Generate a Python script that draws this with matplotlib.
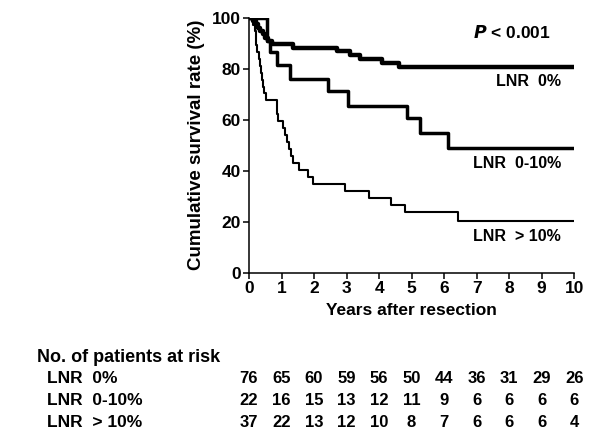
import matplotlib
matplotlib.use('Agg')
import matplotlib.pyplot as plt
import matplotlib.transforms as mtransforms

plt.rcParams['font.family'] = ['Liberation Sans', 'DejaVu Sans']
plt.rcParams['font.weight'] = 'bold'

# LNR 0% (thick)
t_0 = [0, 0.12, 0.2, 0.28, 0.35, 0.42, 0.5, 0.58, 0.7, 1.35, 2.7, 3.1, 3.4, 4.1, 4.6, 10]
s_0 = [100, 98.7, 97.4, 96.1, 94.7, 93.4, 92.1, 90.8, 89.5, 88.2, 86.8, 85.4, 83.9, 82.4, 80.6, 80.6]

# LNR 0-10% (medium)
t_1 = [0, 0.54, 0.56, 0.66, 0.86, 1.26, 2.43, 3.05, 4.85, 5.26, 6.12, 10]
s_1 = [100, 95.5, 90.9, 86.4, 81.6, 76.0, 71.3, 65.5, 60.7, 54.8, 48.9, 48.9]

# LNR >10% (thin)
t_2 = [0, 0.13, 0.17, 0.2, 0.23, 0.26, 0.3, 0.33, 0.37, 0.4, 0.44, 0.47, 0.51,
       0.85, 0.87, 0.89, 1.05, 1.12, 1.18, 1.24, 1.3, 1.36, 1.55, 1.8, 1.98,
       2.95, 3.7, 4.37, 4.8, 6.44, 10]
s_2 = [100, 97.3, 94.6, 91.9, 89.2, 86.5, 83.8, 81.1, 78.4, 75.7, 73.0, 70.3, 67.6,
       64.9, 62.2, 59.5, 56.8, 54.1, 51.4, 48.6, 45.9, 43.2, 40.3, 37.6, 35.0,
       32.3, 29.5, 26.6, 23.7, 20.3, 20.3]

groups = ['LNR  0%', 'LNR  0-10%', 'LNR  > 10%']
at_risk_0 = [76, 65, 60, 59, 56, 50, 44, 36, 31, 29, 26]
at_risk_1 = [22, 16, 15, 13, 12, 11, 9, 6, 6, 6, 6]
at_risk_2 = [37, 22, 13, 12, 10, 8, 7, 6, 6, 6, 4]
years = list(range(11))

fig = plt.figure(figsize=(6, 4.41), dpi=100)
ax = fig.add_axes([0.415, 0.381, 0.542, 0.579])

ax.step(t_0, s_0, where='post', color='black', lw=3.2)
ax.step(t_1, s_1, where='post', color='black', lw=2.5)
ax.step(t_2, s_2, where='post', color='black', lw=1.5)

ax.set_xlim(0, 10)
ax.set_ylim(0, 100)
ax.set_xticks(years)
ax.set_yticks([0, 20, 40, 60, 80, 100])
ax.spines['top'].set_visible(False)
ax.spines['right'].set_visible(False)
for sp in ['left', 'bottom']:
    ax.spines[sp].set_linewidth(1.1)
ax.tick_params(direction='out', length=4, width=1.1, labelsize=12.5, pad=2)
for lab in ax.get_xticklabels() + ax.get_yticklabels():
    lab.set_fontweight('bold')

ax.set_xlabel('Years after resection', fontsize=12.5, fontweight='bold', labelpad=5)
ax.set_ylabel('Cumulative survival rate (%)', fontsize=13.5, fontweight='bold', labelpad=5)

ax.text(9.26, 94, r'$\bfit{P}$ < 0.001', ha='right', va='center', fontsize=12.5, fontweight='bold')
ax.text(9.6, 74.8, groups[0], ha='right', va='center', fontsize=11.5, fontweight='bold')
ax.text(9.6, 43, groups[1], ha='right', va='center', fontsize=11.5, fontweight='bold')
ax.text(9.6, 14.1, groups[2], ha='right', va='center', fontsize=11.5, fontweight='bold')

# risk table
tr = mtransforms.blended_transform_factory(ax.transData, fig.transFigure)
fig.text(0.062, 0.19, 'No. of patients at risk', ha='left', va='center', fontsize=13, fontweight='bold')
rows_y = [0.142, 0.092, 0.042]
for g, row, y in zip(groups, [at_risk_0, at_risk_1, at_risk_2], rows_y):
    fig.text(0.078, y, g, ha='left', va='center', fontsize=12.5, fontweight='bold')
    for yr, n in zip(years, row):
        ax.text(yr, y, str(n), transform=tr, ha='center', va='center', fontsize=12, fontweight='bold')

fig.savefig('out.png', dpi=100)
